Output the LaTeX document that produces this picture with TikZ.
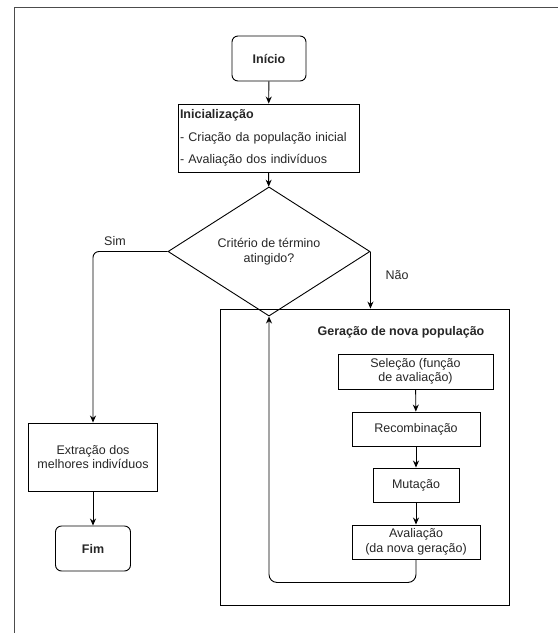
\documentclass[tikz,border=0pt]{standalone}
\usepackage{fontspec}
\setmainfont{Liberation Sans}
\usepackage{xcolor}
\usepackage{tikz}
\usetikzlibrary{positioning, arrows.meta, shapes.geometric}

\begin{document}
\begin{tikzpicture}[x=1pt, y=-1pt,
    font=\fontsize{12.5pt}{14.5pt}\selectfont,
    box/.style={draw=black, line width=0.9pt, rectangle, text=black!85, inner sep=1pt, align=center},
    term/.style={box, rounded corners=6pt, font=\fontsize{12.5pt}{14.5pt}\selectfont\bfseries},
    flow/.style={-{Stealth[length=7pt, width=6pt]}, line width=0.9pt}]
    \useasboundingbox (0,0) rectangle (558,633);

    % Frame
    \draw[black!70, line width=0.9pt] (14,633) -- (14,7) -- (558,7);

    % Main path
    \node[term, minimum width=74pt, minimum height=45pt] (inicio) at (269,58.5) {Início};
    \node[box, minimum width=181pt, minimum height=68pt, text width=177pt, align=left,
          font=\fontsize{12.5pt}{22.5pt}\selectfont] (init) at (268.5,138)
          {\textbf{Inicialização}\\- Criação da população inicial\\- Avaliação dos indivíduos};
    \node[box, diamond, minimum width=202pt, minimum height=89pt, inner sep=0pt] (crit) at (269,251.5)
          {Critério de término\\atingido?};

    % Left branch
    \node[box, minimum width=129pt, minimum height=68pt] (extr) at (93,457)
          {Extração dos\\melhores indivíduos};
    \node[term, minimum width=75pt, minimum height=45pt] (fim) at (93,548.5) {Fim};

    % New generation
    \node[box, minimum width=289pt, minimum height=296pt] (geracao) at (364.5,457) {};
    \node[text=black!85, font=\fontsize{12.5pt}{14.5pt}\selectfont\bfseries] (titulo) at (401,332)
          {Geração de nova população};
    \node[box, minimum width=155pt, minimum height=35pt] (sel) at (415.5,371.5)
          {Seleção (função\\de avaliação)};
    \node[box, minimum width=128pt, minimum height=34pt] (recomb) at (416,429) {Recombinação};
    \node[box, minimum width=86pt, minimum height=34pt] (mut) at (416,485) {Mutação};
    \node[box, minimum width=128pt, minimum height=34pt] (aval) at (416,542)
          {Avaliação\\(da nova geração)};

    % Arrows
    \draw[flow] (inicio) -- (init);
    \draw[flow] (init) -- (crit);
    \draw[flow, rounded corners=6pt] (crit.west) -| (extr.north);
    \draw[flow] (extr) -- (fim);
    \draw[flow] (crit.east) -- (crit.east |- geracao.north);
    \draw[flow] (sel) -- (recomb);
    \draw[flow] (recomb) -- (mut);
    \draw[flow] (mut) -- (aval);
    \draw[flow, rounded corners=8pt] (aval.south) -- ++(0,23) -| (crit.south);

    % Labels
    \node[text=black!85] (sim) at (115,241) {Sim};
    \node[text=black!85] (nao) at (397,275) {Não};
\end{tikzpicture}
\end{document}
